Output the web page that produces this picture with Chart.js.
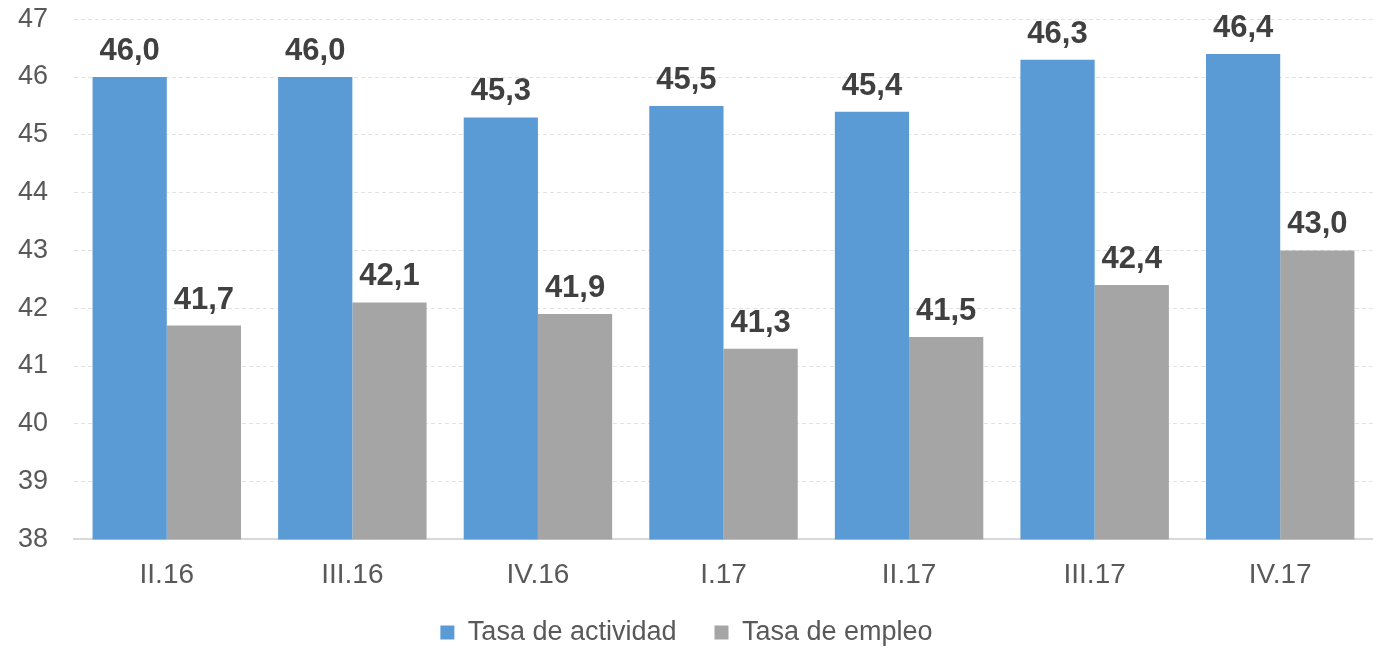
<!DOCTYPE html>
<html>
<head>
<meta charset="utf-8">
<script src="https://cdn.jsdelivr.net/npm/chart.js@4.4.0/dist/chart.umd.min.js"></script>
<style>
  html, body { margin: 0; padding: 0; background: #fff; }
  #wrap { width: 1373px; height: 648px; }
</style>
</head>
<body>
<div id="wrap"><canvas id="chart"></canvas></div>
<script>
const quarters = ["II.16", "III.16", "IV.16", "I.17", "II.17", "III.17", "IV.17"];
const actividad = [46.0, 46.0, 45.3, 45.5, 45.4, 46.3, 46.4];
const empleo = [41.7, 42.1, 41.9, 41.3, 41.5, 42.4, 43.0];
const seriesNames = ["Tasa de actividad", "Tasa de empleo"];
const yMin = 38, yMax = 47;

const FONT = "'Liberation Sans', Arial, sans-serif";

// draw the value above every bar, with a decimal comma
const barLabels = {
  id: "barLabels",
  afterDatasetsDraw(chart) {
    const ctx = chart.ctx;
    ctx.save();
    ctx.font = "bold 31px " + FONT;
    ctx.fillStyle = "#404040";
    ctx.textAlign = "center";
    ctx.textBaseline = "alphabetic";
    chart.data.datasets.forEach((ds, i) => {
      chart.getDatasetMeta(i).data.forEach((bar, j) => {
        const txt = ds.data[j].toFixed(1).replace(".", ",");
        ctx.fillText(txt, bar.x, bar.y - 17);
      });
    });
    ctx.restore();
  }
};

// keep the legend strip short so the plot gets the height
const legendFit = {
  id: "legendFit",
  beforeInit(chart) {
    const fit = chart.legend.fit;
    chart.legend.fit = function () {
      fit.call(this);
      this.height = 37;
    };
  }
};

new Chart(document.getElementById("chart"), {
  type: "bar",
  data: {
    labels: quarters,
    datasets: [
      { label: seriesNames[0], data: actividad, backgroundColor: "#5b9bd5" },
      { label: seriesNames[1], data: empleo, backgroundColor: "#a5a5a5" }
    ]
  },
  options: {
    responsive: true,
    maintainAspectRatio: false,
    animation: false,
    layout: { padding: 0 },
    datasets: { bar: { categoryPercentage: 0.8, barPercentage: 1.0 } },
    scales: {
      x: {
        grid: { display: false, drawTicks: false },
        border: { display: true, color: "#d9d9d9", width: 2 },
        ticks: { color: "#595959", font: { family: FONT, size: 28 }, padding: 19 }
      },
      y: {
        min: yMin,
        max: yMax,
        afterFit: s => { s.width = 74; },
        grid: { color: "#e3e3e3", drawTicks: true, tickLength: 23, tickColor: "rgba(0,0,0,0)" },
        border: { display: false, dash: [4, 3] },
        ticks: { stepSize: 1, color: "#595959", font: { family: FONT, size: 27 }, padding: 3 }
      }
    },
    plugins: {
      legend: {
        position: "bottom",
        labels: {
          color: "#595959",
          font: { family: FONT, size: 27 },
          boxWidth: 14,
          boxHeight: 14,
          padding: 8,
          generateLabels: chart => {
            const items = Chart.defaults.plugins.legend.labels.generateLabels(chart);
            items[0].text += "    ";
            return items;
          }
        }
      },
      tooltip: { enabled: false }
    }
  },
  plugins: [barLabels, legendFit]
});
</script>
</body>
</html>
